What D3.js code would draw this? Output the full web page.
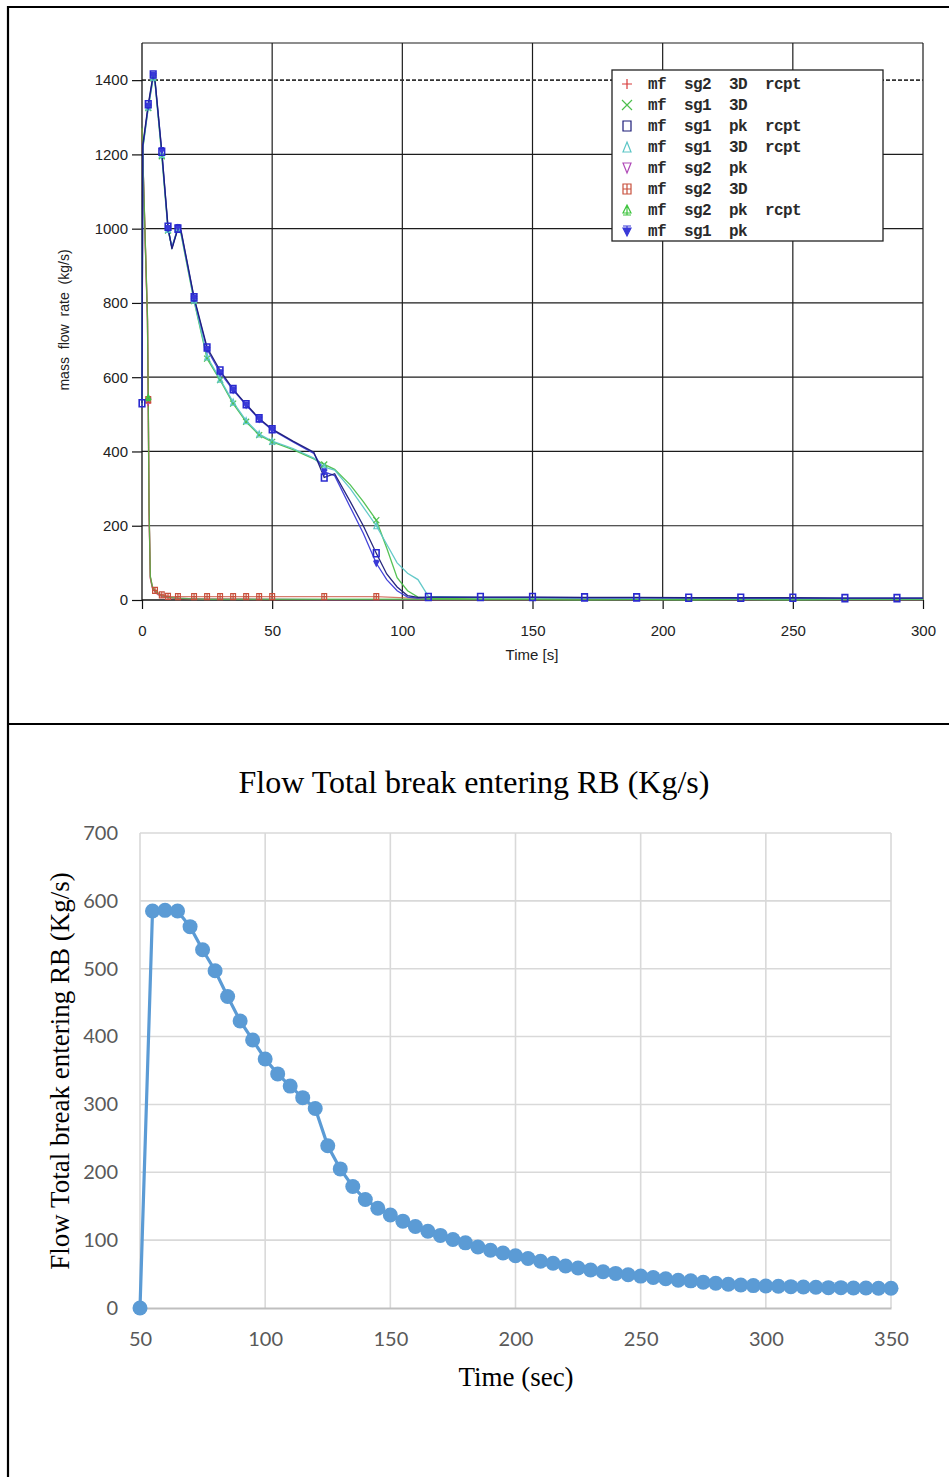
<!DOCTYPE html>
<html>
<head>
<meta charset="utf-8">
<script src="https://cdn.jsdelivr.net/npm/d3@7"></script>
<style>
  body { margin: 0; background: #fff; }
  svg { display: block; }
  .mono { white-space: pre; }
</style>
</head>
<body>
<svg id="fig" width="949" height="1477"></svg>
<script>
// ---------------- Upper panel: break mass flow rate per SG / model ----------------
// Steam generator 1 runs share one time base
const sg1Time = [0, 0.3, 2.4, 4.3, 5, 7.6, 10, 11.5, 13.8, 15, 20, 25, 30, 35, 40, 45, 50, 58, 66, 70, 74, 80, 85, 90, 94, 98, 102, 106, 110, 130, 150, 170, 190, 210, 230, 250, 270, 290, 300];
const sg1PkRcpt = [530, 1225, 1335, 1415, 1400, 1207, 1005, 945, 1000, 995, 815, 680, 618, 568, 527, 489, 460, 428, 398, 330, 340, 265, 200, 126, 70, 35, 12, 7, 8, 8, 8, 7, 7, 6, 6, 6, 5, 5, 5];
const sg1Pk = [520, 1220, 1330, 1412, 1398, 1210, 1000, 948, 1003, 992, 812, 675, 612, 565, 525, 487, 458, 426, 395, 345, 335, 250, 180, 99, 55, 25, 8, 5, 7, 7, 7, 6, 6, 6, 5, 5, 5, 5, 5];
const sg1ThreeD = [525, 1215, 1325, 1405, 1395, 1195, 995, 950, 1000, 985, 805, 650, 592, 529, 480, 444, 426, 405, 380, 365, 352, 310, 265, 215, 140, 60, 25, 8, 4, 3, 3, 3, 2, 2, 2, 2, 2, 2, 2];
const sg1ThreeDRcpt = [528, 1218, 1328, 1408, 1392, 1200, 998, 950, 1002, 988, 808, 655, 595, 533, 483, 447, 428, 408, 382, 358, 350, 300, 250, 200, 150, 100, 72, 55, 10, 6, 6, 5, 5, 5, 4, 4, 4, 4, 4];

// Steam generator 2 runs share another time base
const sg2Time = [0, 2.1, 2.4, 2.7, 3.2, 4, 5, 6, 7.6, 10, 13.8, 20, 25, 30, 35, 40, 45, 50, 70, 90, 110, 130, 150, 170, 190, 210, 230, 250, 270, 290, 300];
const sg2ThreeDRcpt = [1265, 750, 530, 240, 58, 32, 22, 15, 9, 6, 4, 3, 2, 2, 2, 2, 1, 1, 1, 1, 1, 1, 1, 1, 1, 1, 1, 1, 1, 1, 1];
const sg2Pk = [1268, 755, 535, 245, 60, 33, 23, 16, 10, 7, 5, 3, 2, 2, 2, 2, 2, 2, 1, 1, 1, 1, 1, 1, 1, 1, 1, 1, 1, 1, 1];
const sg2ThreeD = [1270, 760, 540, 250, 62, 35, 26, 20, 14, 10, 9, 9, 9, 9, 9, 9, 9, 9, 9, 9, 3, 2, 2, 2, 2, 2, 2, 2, 2, 2, 2];
const sg2PkRcpt = [1272, 765, 545, 255, 64, 36, 25, 18, 12, 7, 5, 3, 2, 2, 2, 2, 2, 2, 2, 2, 2, 1, 1, 0, 1, 0, 1, 0, 1, 1, 1];

// Times at which each run carries a symbol
const marksFull = [0, 2.4, 4.3, 7.6, 10, 13.8, 20, 25, 30, 35, 40, 45, 50, 70, 90, 110, 130, 150, 170, 190, 210, 230, 250, 270, 290];
const marksEarly = [2.4, 4.3, 7.6, 10, 13.8, 20, 25, 30, 35, 40, 45, 50, 70, 90];
const marksSg2 = [2.4, 5, 7.6, 10, 13.8, 20, 25, 30, 35, 40, 45, 50, 70, 90];
const marksNone = [2.4];

const legendNames = ["mf  sg2  3D  rcpt", "mf  sg1  3D", "mf  sg1  pk  rcpt", "mf  sg1  3D  rcpt", "mf  sg2  pk", "mf  sg2  3D", "mf  sg2  pk  rcpt", "mf  sg1  pk"];
const upperXTicks = [0, 50, 100, 150, 200, 250, 300];
const upperYTicks = [0, 200, 400, 600, 800, 1000, 1200, 1400];

// ---------------- Lower panel: total break flow entering RB ----------------
const flowTime = [50, 55, 60, 65, 70, 75, 80, 85, 90, 95, 100, 105, 110, 115, 120, 125, 130, 135, 140, 145, 150, 155, 160, 165, 170, 175, 180, 185, 190, 195, 200, 205, 210, 215, 220, 225, 230, 235, 240, 245, 250, 255, 260, 265, 270, 275, 280, 285, 290, 295, 300, 305, 310, 315, 320, 325, 330, 335, 340, 345, 350];
const flowValue = [0, 585, 586, 585, 562, 528, 497, 459, 423, 395, 367, 345, 327, 310, 294, 239, 205, 179, 160, 147, 137, 128, 120, 113, 107, 101, 96, 90, 85, 81, 77, 73, 69, 66, 62, 59, 56, 53.5, 51, 49, 47, 45, 43, 41, 40, 38, 36.5, 35, 34, 33, 32.5, 32, 31.5, 31, 30.5, 30, 30, 29.5, 29.5, 29, 29];
const lowerXTicks = [50, 100, 150, 200, 250, 300, 350];
const lowerYTicks = [0, 100, 200, 300, 400, 500, 600, 700];

// ------------------------------------------------------------------------------
const svg = d3.select("#fig");

// page frame (table borders)
const frame = svg.append("g").attr("stroke", "#000").attr("stroke-width", 2.2);
frame.append("line").attr("x1", 8).attr("x2", 949).attr("y1", 7).attr("y2", 7);
frame.append("line").attr("x1", 8).attr("x2", 8).attr("y1", 6).attr("y2", 1477);
frame.append("line").attr("x1", 8).attr("x2", 949).attr("y1", 724).attr("y2", 724);

// ---------- upper panel ----------
const xU = d3.scaleLinear().domain([0, 300]).range([142, 923]);
const yU = d3.scaleLinear().domain([0, 1500]).range([600, 43]);
const upFont = "'Liberation Sans Narrow', 'Liberation Sans', Arial, sans-serif";

const up = svg.append("g");

// grid
const gridU = up.append("g").attr("stroke", "#1c1c1c").attr("stroke-width", 1.2).attr("fill", "none");
upperXTicks.filter(t => t > 0).forEach(t => {
  gridU.append("line").attr("x1", xU(t)).attr("x2", xU(t)).attr("y1", yU(1500)).attr("y2", yU(0));
});
upperYTicks.filter(t => t > 0).forEach(t => {
  const l = gridU.append("line").attr("x1", xU(0)).attr("x2", xU(300)).attr("y1", yU(t)).attr("y2", yU(t));
  if (t === 1400) l.attr("stroke", "#333").attr("stroke-dasharray", "4,2").attr("stroke-width", 1.6);
});
gridU.append("line").attr("x1", xU(0)).attr("x2", xU(300)).attr("y1", yU(1500)).attr("y2", yU(1500));

// axes
const axL = up.append("g").attr("transform", `translate(${xU(0)},0)`)
  .call(d3.axisLeft(yU).tickValues(upperYTicks).tickSize(10).tickPadding(4).tickFormat(d3.format("d")));
const axB = up.append("g").attr("transform", `translate(0,${yU(0)})`)
  .call(d3.axisBottom(xU).tickValues(upperXTicks).tickSize(9).tickPadding(16).tickFormat(d3.format("d")));
[axL, axB].forEach(a => {
  a.select(".domain").attr("stroke", "#111").attr("stroke-width", 1.3);
  a.selectAll(".tick line").attr("stroke", "#111").attr("stroke-width", 1.2);
  a.selectAll(".tick text").attr("fill", "#222").attr("font-family", upFont).attr("font-size", 15);
});
axL.select(".domain").attr("d", `M0,${yU(1500)}V${yU(0)}`);
axB.select(".domain").attr("d", `M${xU(0)},0H${xU(300)}`);

up.append("text").attr("x", 532).attr("y", 660).attr("text-anchor", "middle")
  .attr("font-family", upFont).attr("font-size", 15).attr("fill", "#222").text("Time [s]");
up.append("text").attr("transform", "translate(69,320) rotate(-90)").attr("text-anchor", "middle")
  .attr("font-family", upFont).attr("font-size", 14).attr("fill", "#222")
  .attr("word-spacing", 4).text("mass flow rate (kg/s)");

// symbol glyphs
function glyph(g, type, color, s, w) {
  const p = (d, fill) => g.append("path").attr("d", d).attr("stroke", color).attr("stroke-width", w || 1.2)
    .attr("fill", fill ? color : "none");
  switch (type) {
    case "plus": p(`M${-s},0H${s}M0,${-s}V${s}`); break;
    case "cross": p(`M${-s},${-s}L${s},${s}M${-s},${s}L${s},${-s}`); break;
    case "square": p(`M${-s * 0.8},${-s}H${s * 0.8}V${s}H${-s * 0.8}Z`); break;
    case "tri": p(`M0,${-s}L${s * 0.8},${s}H${-s * 0.8}Z`); break;
    case "tridown": p(`M0,${s}L${s * 0.8},${-s}H${-s * 0.8}Z`); break;
    case "boxplus": p(`M${-s * 0.8},${-s}H${s * 0.8}V${s}H${-s * 0.8}ZM${-s * 0.8},0H${s * 0.8}M0,${-s}V${s}`); break;
    case "triline": p(`M0,${-s}L${s * 0.8},${s * 0.6}H${-s * 0.8}ZM0,${-s}V${s}M${-s * 0.8},${s}H${s * 0.8}`); break;
    case "tridownline": p(`M${-s * 0.8},${-s * 0.6}H${s * 0.8}L0,${s}ZM0,${-s}V${s}M${-s * 0.8},${-s}H${s * 0.8}`, true); break;
  }
}

// runs, built from the arrays above (drawing order: SG2 first, then SG1)
const runs = [
  { name: legendNames[0], t: sg2Time, v: sg2ThreeDRcpt, color: "#d83a3a", sym: "plus", marks: marksNone, order: 0 },
  { name: legendNames[4], t: sg2Time, v: sg2Pk, color: "#b04ab8", sym: "tridown", marks: marksNone, order: 1 },
  { name: legendNames[5], t: sg2Time, v: sg2ThreeD, color: "#c8503c", sym: "boxplus", marks: marksSg2, order: 2 },
  { name: legendNames[6], t: sg2Time, v: sg2PkRcpt, color: "#3ec43e", sym: "triline", marks: marksNone, order: 3 },
  { name: legendNames[1], t: sg1Time, v: sg1ThreeD, color: "#4cbf4c", sym: "cross", marks: marksEarly, order: 4 },
  { name: legendNames[3], t: sg1Time, v: sg1ThreeDRcpt, color: "#5cc6c6", sym: "tri", marks: marksEarly, order: 5 },
  { name: legendNames[7], t: sg1Time, v: sg1Pk, color: "#3a3ad8", sym: "tridownline", marks: marksEarly, order: 6 },
  { name: legendNames[2], t: sg1Time, v: sg1PkRcpt, color: "#1c1c78", sym: "square", marks: marksFull, order: 7 }
];

const lineU = d3.line().x(d => xU(d[0])).y(d => yU(d[1]));
const plotU = up.append("g");
runs.forEach(r => {
  const pts = r.t.map((t, i) => [t, r.v[i]]);
  plotU.append("path").attr("d", lineU(pts)).attr("fill", "none")
    .attr("stroke", r.color).attr("stroke-width", 1.3).attr("stroke-opacity", r.order < 4 ? 0.75 : 0.95);
});
runs.forEach(r => {
  r.t.forEach((t, i) => {
    if (!r.marks.includes(t)) return;
    const g = plotU.append("g").attr("transform", `translate(${xU(t)},${yU(r.v[i])})`);
    if (r.sym === "square") glyph(g, r.sym, "#2a2ad0", 3.5, 1.6);
    else glyph(g, r.sym, r.color, 3);
  });
});

// legend
const legendOrder = legendNames.map(n => runs.find(r => r.name === n));
const leg = up.append("g");
leg.append("rect").attr("x", 612).attr("y", 70).attr("width", 271).attr("height", 171)
  .attr("fill", "#fff").attr("stroke", "#222").attr("stroke-width", 1.3);
legendOrder.forEach((r, i) => {
  const y = 84 + i * 21;
  const g = leg.append("g").attr("transform", `translate(627,${y})`);
  glyph(g, r.sym, r.color, 5);
  leg.append("text").attr("class", "mono").attr("x", 648).attr("y", y + 5)
    .attr("font-family", "'Liberation Mono', 'DejaVu Sans Mono', monospace").attr("font-size", 16)
    .attr("letter-spacing", -0.6).attr("font-weight", "bold").attr("fill", "#2a2a2a").text(r.name);
});

// ---------- lower panel ----------
const xL = d3.scaleLinear().domain([50, 350]).range([140, 891]);
const yL = d3.scaleLinear().domain([0, 700]).range([1308, 833]);
const low = svg.append("g");

const gridL = low.append("g").attr("stroke", "#d9d9d9").attr("stroke-width", 1.6);
lowerXTicks.forEach(t => gridL.append("line").attr("x1", xL(t)).attr("x2", xL(t)).attr("y1", yL(700)).attr("y2", yL(0)));
lowerYTicks.filter(t => t > 0).forEach(t => gridL.append("line").attr("x1", xL(50)).attr("x2", xL(350)).attr("y1", yL(t)).attr("y2", yL(t)));

const axLB = low.append("g").attr("transform", `translate(0,${yL(0)})`)
  .call(d3.axisBottom(xL).tickValues(lowerXTicks).tickSize(0).tickPadding(24));
axLB.select(".domain").attr("stroke", "#bfbfbf").attr("stroke-width", 2.2);
const axLL = low.append("g").attr("transform", `translate(${xL(50)},0)`)
  .call(d3.axisLeft(yL).tickValues(lowerYTicks).tickSize(0).tickPadding(22));
axLL.select(".domain").remove();
[axLB, axLL].forEach(a => a.selectAll(".tick text")
  .attr("fill", "#595959").attr("font-family", "Lato, 'Open Sans', sans-serif").attr("font-size", 20));

const serif = "'Liberation Serif', 'Times New Roman', serif";
low.append("text").attr("x", 474).attr("y", 793).attr("text-anchor", "middle")
  .attr("font-family", serif).attr("font-size", 32).attr("fill", "#000").text("Flow Total break entering RB (Kg/s)");
low.append("text").attr("x", 516).attr("y", 1386).attr("text-anchor", "middle")
  .attr("font-family", serif).attr("font-size", 27).attr("fill", "#000").text("Time (sec)");
low.append("text").attr("transform", "translate(69,1071) rotate(-90)").attr("text-anchor", "middle")
  .attr("font-family", serif).attr("font-size", 27).attr("fill", "#000").text("Flow Total break entering RB (Kg/s)");

const flowPts = flowTime.map((t, i) => [t, flowValue[i]]);
low.append("path").attr("d", d3.line().x(d => xL(d[0])).y(d => yL(d[1]))(flowPts))
  .attr("fill", "none").attr("stroke", "#5b9bd5").attr("stroke-width", 3.2);
low.append("g").selectAll("circle").data(flowPts).join("circle")
  .attr("cx", d => xL(d[0])).attr("cy", d => yL(d[1])).attr("r", 7.5).attr("fill", "#5b9bd5");
</script>
</body>
</html>
